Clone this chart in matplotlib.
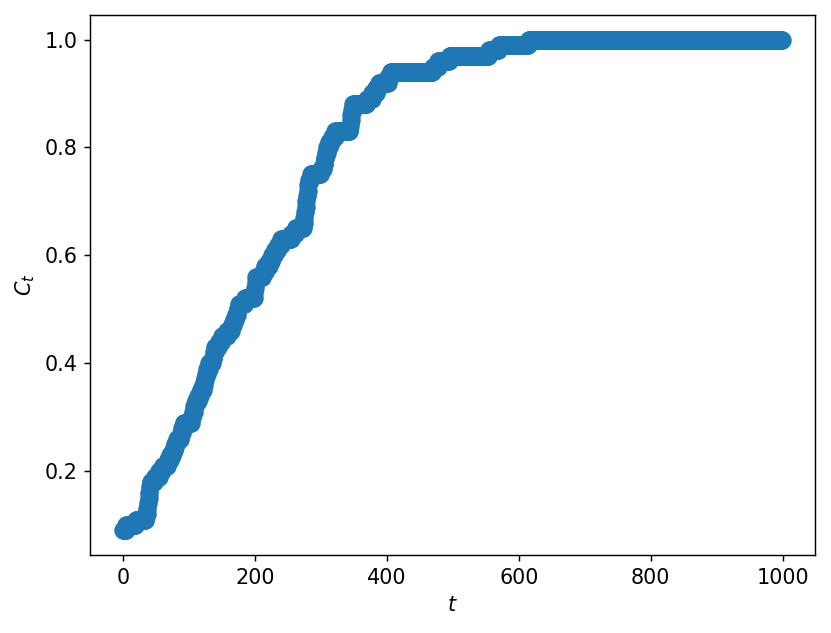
import numpy as np
import matplotlib
matplotlib.use("Agg")
import matplotlib.pyplot as plt

# step function C_t: time index where each new value begins, and that value
step_start = [0, 5, 20, 35, 37, 38, 39, 40, 41, 42, 48, 55, 60, 68, 72, 76, 79,
              82, 88, 90, 92, 104, 106, 108, 110, 114, 118, 122, 124, 126, 128,
              131, 136, 138, 140, 145, 150, 158, 165, 168, 171, 174, 176, 185,
              199, 200, 201, 202, 212, 216, 222, 226, 230, 235, 240, 255, 262,
              274, 275, 276, 277, 278, 279, 280, 281, 282, 285, 300, 304, 306,
              308, 310, 313, 317, 322, 344, 345, 346, 347, 349, 370, 378, 384,
              388, 402, 406, 470, 478, 495, 555, 570, 615]
step_value = [0.09, 0.10, 0.11, 0.12, 0.13, 0.14, 0.15, 0.16, 0.17, 0.18, 0.19,
              0.20, 0.21, 0.22, 0.23, 0.24, 0.25, 0.26, 0.27, 0.28, 0.29, 0.30,
              0.31, 0.32, 0.33, 0.34, 0.35, 0.36, 0.37, 0.38, 0.39, 0.40, 0.41,
              0.42, 0.43, 0.44, 0.45, 0.46, 0.47, 0.48, 0.49, 0.50, 0.51, 0.52,
              0.53, 0.54, 0.55, 0.56, 0.57, 0.58, 0.59, 0.60, 0.61, 0.62, 0.63,
              0.64, 0.65, 0.66, 0.67, 0.68, 0.69, 0.70, 0.71, 0.72, 0.73, 0.74,
              0.75, 0.76, 0.77, 0.78, 0.79, 0.80, 0.81, 0.82, 0.83, 0.84, 0.85,
              0.86, 0.87, 0.88, 0.89, 0.90, 0.91, 0.92, 0.93, 0.94, 0.95, 0.96,
              0.97, 0.98, 0.99, 1.00]
n_steps = 1000

t = np.arange(n_steps)
lengths = np.diff(step_start + [n_steps])
c_t = np.repeat(step_value, lengths)

plt.rcParams["font.size"] = 11.5

fig = plt.figure(figsize=(8.31 / 1.3, 6.33 / 1.3), dpi=130)
ax = fig.add_axes([90 / 831, 78 / 633, 725 / 831, 540 / 633])
ax.scatter(t, c_t, s=85, color="#1f77b4")
ax.set_xlabel("$t$")
ax.set_ylabel("$C_t$")
fig.savefig("out.png", dpi=130)
